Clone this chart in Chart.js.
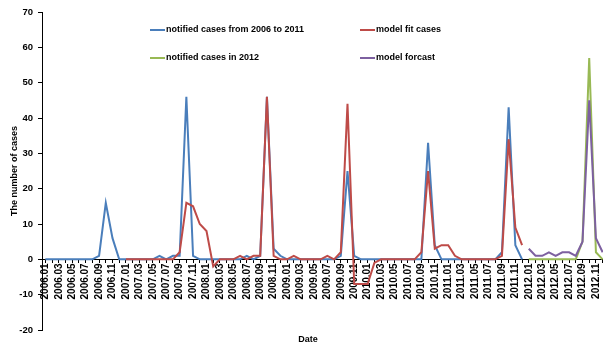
<!DOCTYPE html>
<html>
<head>
<meta charset="utf-8">
<script src="https://cdn.jsdelivr.net/npm/chart.js@4"></script>
<style>
  html, body { margin: 0; padding: 0; background: #fff; overflow: hidden; }
  #wrap { width: 606px; height: 348px; }
</style>
</head>
<body>
<div id="wrap"><canvas id="casesChart" width="606" height="348"></canvas></div>
<script>
// Eje X: meses de 2006.01 a 2012.12
const years = ['2006', '2007', '2008', '2009', '2010', '2011', '2012'];
const monthNames = ['01', '02', '03', '04', '05', '06', '07', '08', '09', '10', '11', '12'];
const months = [];
years.forEach(y => monthNames.forEach(m => months.push(y + '.' + m)));

// notified cases 2006.01 - 2011.12
const notified0611 = [
  0, 0, 0, 0, 0, 0, 0, 0, 1, 16, 6, 0,
  0, 0, 0, 0, 0, 1, 0, 1, 1, 46, 1, 0,
  0, 0, 0, 0, 0, 0, 1, 0, 1, 46, 3, 1,
  0, 0, 0, 0, 0, 0, 0, 0, 1, 25, 1, 0,
  0, 0, 0, 0, 0, 0, 0, 0, 0, 33, 4, 0,
  0, 0, 0, 0, 0, 0, 0, 0, 2, 43, 4, 0
];
// model fit 2007.01 - 2011.12
const modelFit = [
  0, 0, 0, 0, 0, 0, 0, 0, 2, 16, 15, 10,
  8, -2, 0, 0, 0, 1, 0, 1, 1, 46, 1, 0,
  0, 1, 0, 0, 0, 0, 1, 0, 2, 44, -7, -7,
  -7, -1, 0, 0, 0, 0, 0, 0, 2, 25, 3, 4,
  4, 1, 0, 0, 0, 0, 0, 0, 1, 34, 9, 4
];
// 2012.01 - 2012.12
const notified2012 = [0, 0, 0, 0, 0, 0, 0, 0, 5, 57, 2, 0];
const modelForecast = [3, 1, 1, 2, 1, 2, 2, 1, 5, 45, 6, 2];

const yTicks = [-20, -10, 0, 10, 20, 30, 40, 50, 60, 70];

const gaps = n => new Array(n).fill(null);

const FONT = "'Liberation Sans', Arial, sans-serif";

// Leyenda 2x2 dentro del área del gráfico + título "Date"
const extraText = {
  id: 'extraText',
  afterDraw(chart) {
    const ctx = chart.ctx;
    const ds = chart.data.datasets;
    const items = [
      { i: 0, x: 150, y: 30 },
      { i: 1, x: 360, y: 30 },
      { i: 2, x: 150, y: 58 },
      { i: 3, x: 360, y: 58 }
    ];
    ctx.save();
    ctx.font = 'bold 9px ' + FONT;
    ctx.textBaseline = 'middle';
    ctx.fillStyle = '#000';
    items.forEach(it => {
      ctx.strokeStyle = ds[it.i].borderColor;
      ctx.lineWidth = 2;
      ctx.beginPath();
      ctx.moveTo(it.x, it.y);
      ctx.lineTo(it.x + 15, it.y);
      ctx.stroke();
      ctx.fillText(ds[it.i].label, it.x + 16, it.y);
    });
    ctx.textAlign = 'center';
    ctx.fillText('Date', 308, 340);
    ctx.restore();
  }
};

const ctx = document.getElementById('casesChart').getContext('2d');
new Chart(ctx, {
  type: 'line',
  data: {
    labels: months,
    datasets: [
      {
        label: 'notified cases from 2006 to 2011',
        data: notified0611.concat(gaps(12)),
        borderColor: '#4A7EBB',
        order: 4
      },
      {
        label: 'model fit cases',
        data: gaps(12).concat(modelFit, gaps(12)),
        borderColor: '#BE4B48',
        order: 2
      },
      {
        label: 'notified cases in 2012',
        data: gaps(72).concat(notified2012),
        borderColor: '#98B954',
        order: 3
      },
      {
        label: 'model forcast',
        data: gaps(72).concat(modelForecast),
        borderColor: '#7D60A0',
        order: 1
      }
    ]
  },
  options: {
    responsive: false,
    animation: false,
    devicePixelRatio: 1,
    layout: { padding: { left: 0, right: 0, top: 12, bottom: 18 } },
    elements: {
      line: { borderWidth: 2, tension: 0, fill: false },
      point: { radius: 0, hoverRadius: 0 }
    },
    plugins: {
      legend: { display: false },
      tooltip: { enabled: false }
    },
    scales: {
      x: {
        type: 'category',
        position: { y: 0 },
        offset: true,
        afterFit: scale => {
          scale.height = 0;
          scale.paddingLeft = 0;
          scale.paddingRight = 0;
        },
        border: { color: '#000', width: 1 },
        grid: { drawOnChartArea: false, drawTicks: true, tickLength: 3, color: '#000' },
        ticks: {
          autoSkip: false,
          minRotation: 90,
          maxRotation: 90,
          padding: 1,
          color: '#000',
          font: { family: FONT, size: 10, weight: 'bold' },
          callback: function (value, index) {
            return index % 2 === 0 ? this.getLabelForValue(value) : '';
          }
        }
      },
      y: {
        min: yTicks[0],
        max: yTicks[yTicks.length - 1],
        afterFit: scale => { scale.width = 42; },
        afterBuildTicks: scale => { scale.ticks = yTicks.map(v => ({ value: v })); },
        border: { color: '#000', width: 1 },
        grid: { drawOnChartArea: false, drawTicks: true, tickLength: 4, color: '#000' },
        ticks: {
          padding: 5,
          color: '#000',
          font: { family: FONT, size: 9.5, weight: 'bold' }
        },
        title: {
          display: true,
          text: 'The number of cases',
          color: '#000',
          padding: { top: 9, bottom: 0 },
          font: { family: FONT, size: 9, weight: 'bold' }
        }
      }
    }
  },
  plugins: [extraText]
});
</script>
</body>
</html>
